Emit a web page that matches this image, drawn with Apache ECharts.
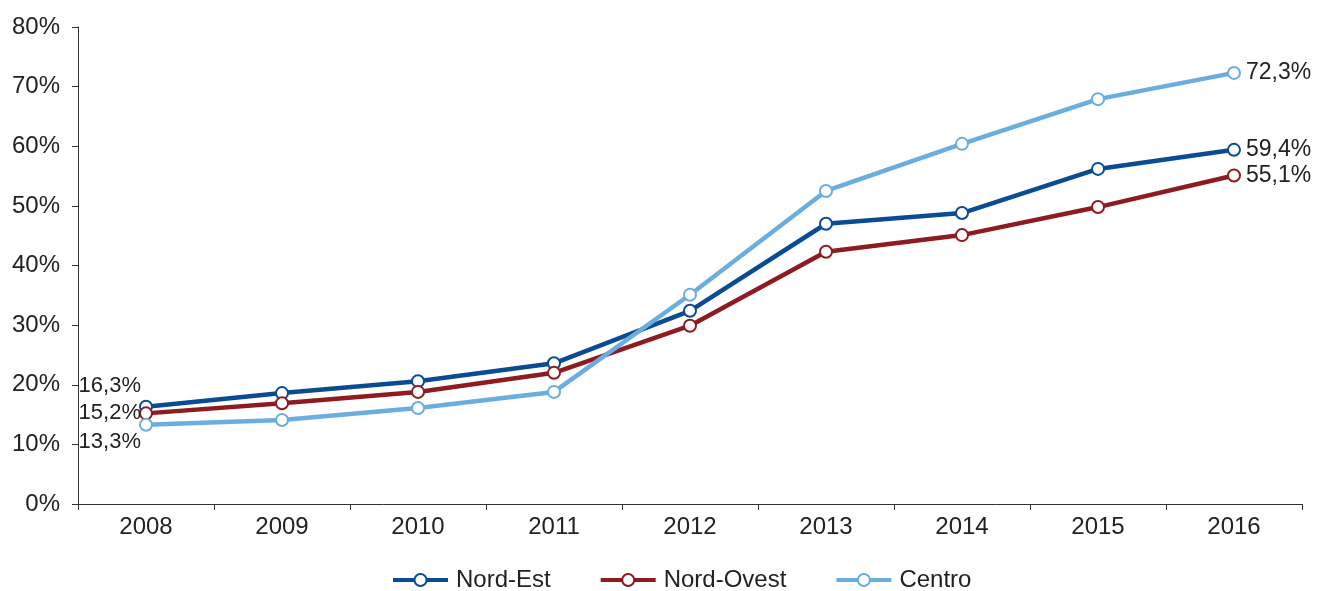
<!DOCTYPE html>
<html>
<head>
<meta charset="utf-8">
<script src="https://cdn.jsdelivr.net/npm/echarts@6/dist/echarts.min.js"></script>
<style>html,body{margin:0;padding:0;background:#fff}#c{width:1317px;height:591px}</style>
</head>
<body>
<div id="c"></div>
<script>
const categories = ['2008','2009','2010','2011','2012','2013','2014','2015','2016'];
const nordEst = [16.3, 18.6, 20.6, 23.6, 32.4, 47.0, 48.8, 56.2, 59.4];
const nordOvest = [15.2, 16.9, 18.8, 22.0, 29.9, 42.3, 45.1, 49.8, 55.1];
const centro = [13.3, 14.1, 16.1, 18.8, 35.1, 52.5, 60.4, 67.9, 72.3];
const seriesNames = ['Nord-Est', 'Nord-Ovest', 'Centro'];
const colors = ['#0a4c94', '#8e1b1f', '#6aaee0'];

const font = 'Liberation Sans, Arial, sans-serif';
const fmt = v => v.toFixed(1).replace('.', ',') + '%';

function mk(name, data, color, firstOffset) {
  return {
    name, type: 'line',
    symbol: 'emptyCircle', symbolSize: 12,
    lineStyle: { color, width: 4.5 },
    itemStyle: { color, borderColor: color, borderWidth: 2.5 },
    z: 3,
    label: { show: false },
    data: data.map((v, i) => {
      const o = { value: v };
      if (i === 0) {
        o.label = { show: true, position: 'left', distance: -2, offset: [0, firstOffset],
          formatter: p => fmt(p.value), fontSize: 22, color: '#222', fontFamily: font };
      } else if (i === data.length - 1) {
        o.label = { show: true, position: 'right', distance: 5,
          formatter: p => fmt(p.value), fontSize: 23, color: '#222', fontFamily: font };
      }
      return o;
    }),
    emphasis: { disabled: true }
  };
}

const chart = echarts.init(document.getElementById('c'), null, { renderer: 'canvas' });
chart.setOption({
  animation: false,
  textStyle: { fontFamily: font },
  grid: { left: 78, right: 15, top: 27, bottom: 87, containLabel: false },
  legend: {
    top: 563, left: 386, itemWidth: 55, itemHeight: 15, itemGap: 48,
    lineStyle: { width: 4 },
    textStyle: { fontSize: 24, color: '#222', fontFamily: font, padding: [0, 0, 0, 3] },
    data: seriesNames
  },
  xAxis: {
    type: 'category', data: categories, boundaryGap: true,
    axisLine: { lineStyle: { color: '#333', width: 1 } },
    axisTick: { show: true, alignWithLabel: false, length: 6, lineStyle: { color: '#333' } },
    axisLabel: { fontSize: 24, color: '#222', margin: 11, fontFamily: font }
  },
  yAxis: {
    type: 'value', min: 0, max: 80, interval: 10,
    axisLine: { show: true, lineStyle: { color: '#333', width: 1 } },
    axisTick: { show: true, length: 6, lineStyle: { color: '#333' } },
    splitLine: { show: false },
    axisLabel: { fontSize: 24, color: '#222', margin: 18, formatter: '{value}%', fontFamily: font }
  },
  series: [
    mk(seriesNames[0], nordEst, colors[0], -21),
    mk(seriesNames[1], nordOvest, colors[1], 0),
    mk(seriesNames[2], centro, colors[2], 17)
  ]
});
</script>
</body>
</html>
